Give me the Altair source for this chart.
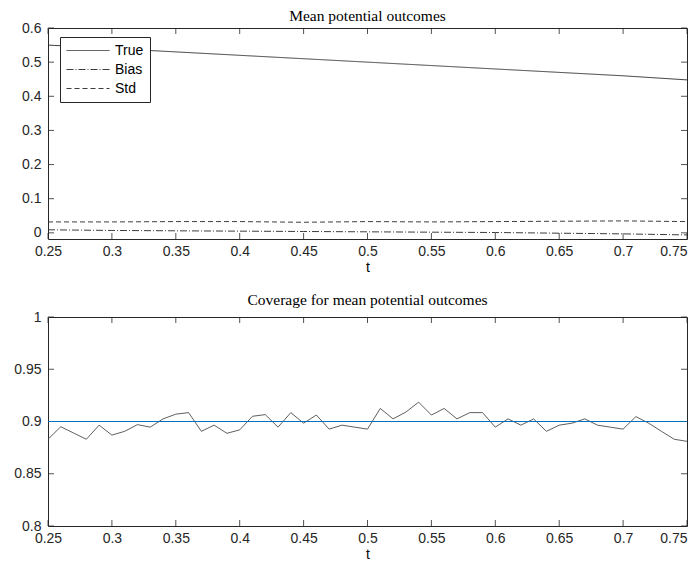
import altair as alt
import pandas as pd

# ---- data ----
t_top = [0.25, 0.30, 0.35, 0.40, 0.45, 0.50, 0.55, 0.60, 0.65, 0.70, 0.75]
true_vals = [0.550, 0.540, 0.530, 0.520, 0.510, 0.500, 0.490, 0.480, 0.470, 0.460, 0.448]
bias_vals = [0.009, 0.007, 0.006, 0.005, 0.004, 0.003, 0.002, 0.001, -0.001, -0.003, -0.006]
std_vals = [0.032, 0.032, 0.033, 0.033, 0.031, 0.033, 0.032, 0.033, 0.034, 0.035, 0.033]

t_cov = [round(0.25 + 0.01 * i, 2) for i in range(51)]
coverage = [0.883, 0.895, 0.889, 0.883, 0.8965, 0.887, 0.8906, 0.897, 0.8946, 0.9025,
            0.907, 0.9085, 0.8906, 0.8965, 0.8887, 0.892, 0.905, 0.9066, 0.8946, 0.9085,
            0.8984, 0.9062, 0.8927, 0.8965, 0.8946, 0.8927, 0.9125, 0.9025, 0.909, 0.9185,
            0.9062, 0.9125, 0.9025, 0.9085, 0.9085, 0.8946, 0.9025, 0.8965, 0.9025, 0.8906,
            0.8965, 0.8984, 0.9025, 0.8965, 0.8946, 0.8927, 0.9047, 0.8984, 0.8906, 0.883,
            0.881]
nominal = 0.9

x_ticks = [0.25, 0.3, 0.35, 0.4, 0.45, 0.5, 0.55, 0.6, 0.65, 0.7, 0.75]
y_ticks_top = [0, 0.1, 0.2, 0.3, 0.4, 0.5, 0.6]
y_ticks_bot = [0.8, 0.85, 0.9, 0.95, 1.0]

series_names = ["True", "Bias", "Std"]

W = 639
H1 = 211
H2 = 209
INK = "#262626"
SANS = "Liberation Sans"
SERIF = "Liberation Serif"

top_df = pd.DataFrame({
    "t": t_top * 3,
    "value": true_vals + bias_vals + std_vals,
    "series": ["True"] * len(t_top) + ["Bias"] * len(t_top) + ["Std"] * len(t_top),
})
cov_df = pd.DataFrame({"t": t_cov, "coverage": coverage})
xt_df = pd.DataFrame({"t": x_ticks})
yt1_df = pd.DataFrame({"value": y_ticks_top})
yt2_df = pd.DataFrame({"coverage": y_ticks_bot})

lab = "format(datum.value, '.2~f')"

xscale = alt.Scale(domain=[0.25, 0.75], nice=False, zero=False)
xaxis = alt.Axis(values=x_ticks, labelExpr=lab, title="t", ticks=False, domain=False,
                 grid=False, labelPadding=5, titlePadding=2, labelOverlap=False,
                 labelFlush=False,
                 labelAlign={"expr": "datum.value > 0.749 ? 'right' : 'center'"})

yscale1 = alt.Scale(domain=[-0.018, 0.6], nice=False, zero=False)
yaxis1 = alt.Axis(values=y_ticks_top, labelExpr=lab, title=None, ticks=False,
                  domain=False, grid=False, labelPadding=7, labelOverlap=False,
                  labelFlush=False)

yscale2 = alt.Scale(domain=[0.8, 1.0], nice=False, zero=False)
yaxis2 = alt.Axis(values=y_ticks_bot, labelExpr=lab, title=None, ticks=False,
                  domain=False, grid=False, labelPadding=7, labelOverlap=False,
                  labelFlush=False)


def tick_layers(ydf, yfield, yscale, yaxis, H):
    X = lambda: alt.X("t:Q", scale=xscale, axis=xaxis)
    Y = lambda: alt.Y(f"{yfield}:Q", scale=yscale, axis=yaxis)
    xb = alt.Chart(xt_df).mark_rule(color=INK, strokeWidth=0.8).encode(
        x=X(), y=alt.value(H), y2=alt.value(H - 6))
    xtp = alt.Chart(xt_df).mark_rule(color=INK, strokeWidth=0.8).encode(
        x=X(), y=alt.value(0), y2=alt.value(6))
    yl = alt.Chart(ydf).mark_rule(color=INK, strokeWidth=0.8).encode(
        y=Y(), x=alt.value(0), x2=alt.value(6))
    yr = alt.Chart(ydf).mark_rule(color=INK, strokeWidth=0.8).encode(
        y=Y(), x=alt.value(W), x2=alt.value(W - 6))
    return [xb, xtp, yl, yr]


lines_top = alt.Chart(top_df).mark_line(color=INK, strokeWidth=0.9).encode(
    x=alt.X("t:Q", scale=xscale, axis=xaxis),
    y=alt.Y("value:Q", scale=yscale1, axis=yaxis1),
    strokeDash=alt.StrokeDash(
        "series:N",
        scale=alt.Scale(domain=series_names, range=[[1, 0], [7, 2, 1, 2], [5, 3]]),
        sort=series_names,
        legend=alt.Legend(
            title=None, orient="none", legendX=12, legendY=9,
            symbolType="M-1,0H5.15", symbolSize=196, symbolStrokeColor=INK,
            symbolStrokeWidth=0.9, labelFont=SANS, labelFontSize=14,
            labelColor="#000", fillColor="white", strokeColor=INK,
            padding=6, rowPadding=4, labelOffset=34,
        ),
    ),
    detail="series:N",
)

top = alt.layer(lines_top, *tick_layers(yt1_df, "value", yscale1, yaxis1, H1)).properties(
    width=W, height=H1,
    title=alt.TitleParams("Mean potential outcomes", font=SERIF, fontSize=15.5,
                          fontWeight="normal", color="#000", offset=-3.5),
)

cov_line = alt.Chart(cov_df).mark_line(color="#4d4d4d", strokeWidth=0.9).encode(
    x=alt.X("t:Q", scale=xscale, axis=xaxis),
    y=alt.Y("coverage:Q", scale=yscale2, axis=yaxis2),
)
nom_rule = alt.Chart(pd.DataFrame({"coverage": [nominal]})).mark_rule(
    color="#0072BD", stroke="#0072BD", strokeWidth=1.2, opacity=1).encode(
    y=alt.Y("coverage:Q", scale=yscale2, axis=yaxis2))

bottom = alt.layer(cov_line,
                   *tick_layers(yt2_df, "coverage", yscale2, yaxis2, H2),
                   nom_rule).properties(
    width=W, height=H2,
    title=alt.TitleParams("Coverage for mean potential outcomes", font=SERIF,
                          fontSize=15.5, fontWeight="normal", color="#000", offset=2),
)

chart = alt.vconcat(top, bottom, spacing=17).properties(
    padding={"left": 5, "top": 0, "right": 0, "bottom": 0}
).configure_view(stroke=INK, strokeWidth=1).configure_axis(
    labelFont=SANS, labelFontSize=14, labelColor="#262626",
    titleFont=SANS, titleFontSize=14, titleFontWeight="normal", titleColor="#000",
).configure_concat(spacing=17)

chart.save("out.html", embed_options={"renderer": "svg", "actions": False})
